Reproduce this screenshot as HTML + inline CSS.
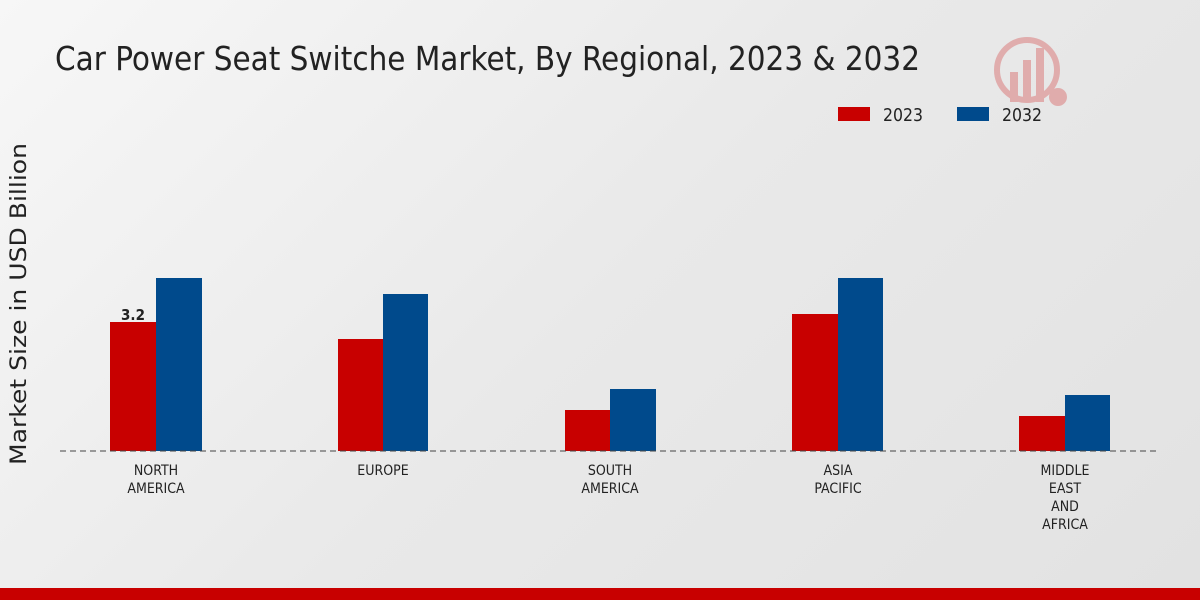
<!DOCTYPE html>
<html><head><meta charset="utf-8"><style>
html,body{margin:0;padding:0;width:1200px;height:600px;overflow:hidden}
body{background:linear-gradient(135deg,#f7f7f7 0%,#e9e9e9 50%,#e2e2e2 100%)}
svg{display:block}
text{font-family:"DejaVu Sans Condensed","DejaVu Sans","Liberation Sans",sans-serif}
</style></head><body>
<svg width="1200" height="600" xmlns="http://www.w3.org/2000/svg">
<text x="55" y="70" font-size="33" fill="#222" textLength="865" lengthAdjust="spacingAndGlyphs">Car Power Seat Switche Market, By Regional, 2023 &amp; 2032</text>
<g opacity="0.25">
<circle cx="1027" cy="70" r="30" fill="none" stroke="#c00" stroke-width="6"/>
<rect x="1010" y="72" width="8" height="30" fill="#c00"/>
<rect x="1023" y="60" width="8" height="42" fill="#c00"/>
<rect x="1036" y="48" width="8" height="54" fill="#c00"/>
<circle cx="1058" cy="97" r="9" fill="#c00"/>
</g>
<rect x="838" y="107" width="32" height="14" fill="#c80000"/>
<text x="883" y="121" font-size="18" fill="#222" textLength="40" lengthAdjust="spacingAndGlyphs">2023</text>
<rect x="957" y="107" width="32" height="14" fill="#004a8c"/>
<text x="1002" y="121" font-size="18" fill="#222" textLength="40" lengthAdjust="spacingAndGlyphs">2032</text>
<text transform="translate(26,304) rotate(-90)" font-size="22" fill="#222" text-anchor="middle" textLength="322" lengthAdjust="spacingAndGlyphs" style="font-family:'DejaVu Sans',sans-serif">Market Size in USD Billion</text>
<g fill="#c80000">
<rect x="110" y="322" width="46" height="129"/>
<rect x="338" y="339" width="45" height="112"/>
<rect x="565" y="410" width="45" height="41"/>
<rect x="792" y="314" width="46" height="137"/>
<rect x="1019" y="416" width="46" height="35"/>
</g>
<g fill="#004a8c">
<rect x="156" y="278" width="46" height="173"/>
<rect x="383" y="294" width="45" height="157"/>
<rect x="610" y="389" width="46" height="62"/>
<rect x="838" y="278" width="45" height="173"/>
<rect x="1065" y="395" width="45" height="56"/>
</g>
<line x1="60" y1="451" x2="1160" y2="451" stroke="#444" stroke-dasharray="6,4" stroke-width="1"/>
<text x="133" y="320" font-size="15" font-weight="bold" fill="#222" text-anchor="middle">3.2</text>
<g font-size="14" fill="#222" text-anchor="middle">
<text x="156" y="475">NORTH</text><text x="156" y="493">AMERICA</text>
<text x="383" y="475">EUROPE</text>
<text x="610" y="475">SOUTH</text><text x="610" y="493">AMERICA</text>
<text x="838" y="475">ASIA</text><text x="838" y="493">PACIFIC</text>
<text x="1065" y="475">MIDDLE</text><text x="1065" y="493">EAST</text><text x="1065" y="511">AND</text><text x="1065" y="529">AFRICA</text>
</g>
<rect x="0" y="588" width="1200" height="12" fill="#c80000"/>
</svg>
</body></html>
